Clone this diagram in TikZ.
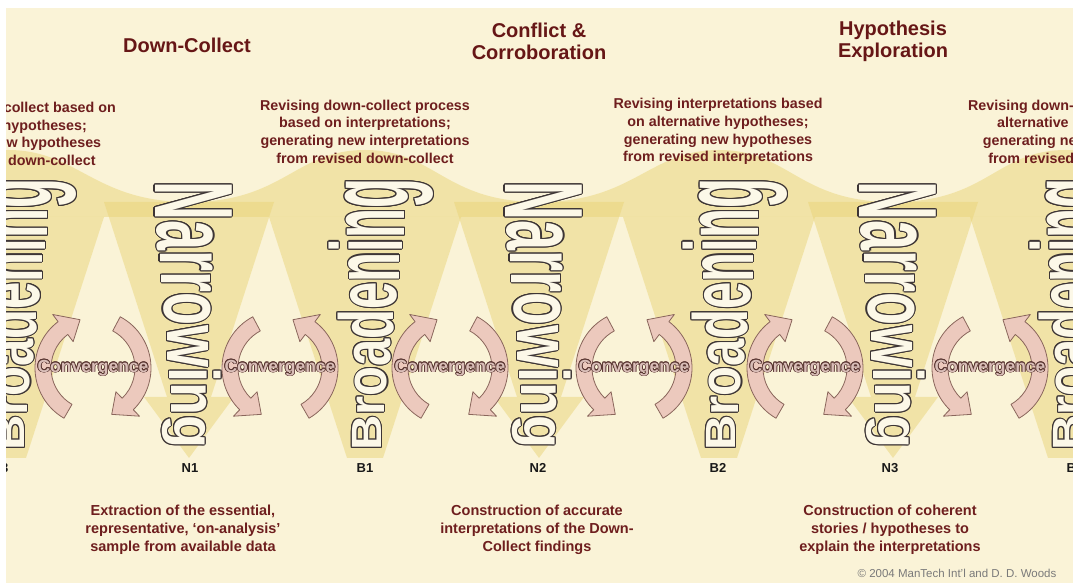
\documentclass[tikz,border=0pt]{standalone}
\usepackage{fontspec}
\setmainfont{Liberation Sans}
\usepackage{graphicx}
\usetikzlibrary{calc}
\definecolor{bgc}{HTML}{FAF3D7}
\definecolor{yel}{HTML}{EAD579}
\definecolor{maroon}{HTML}{6E1E1E}
\definecolor{titlec}{HTML}{661616}
\definecolor{outl}{HTML}{3D3535}
\definecolor{lfill}{HTML}{FCF8E8}
\definecolor{arrfill}{HTML}{ECC9BD}
\definecolor{arrline}{HTML}{8A665C}
\definecolor{convfill}{HTML}{D9BEB8}
\definecolor{convline}{HTML}{5A3632}
\definecolor{copyc}{HTML}{7A7A7A}
\tikzset{
  yelshape/.style={fill=yel, fill opacity=0.5},
  nletter/.style={inner sep=0pt, anchor=base west, font=\fontsize{54}{54}\selectfont\bfseries},
  bletter/.style={inner sep=0pt, anchor=base west, font=\fontsize{49}{49}\selectfont\bfseries},
  cword/.style={inner sep=0pt, anchor=center, font=\fontsize{17.5}{17.5}\selectfont\bfseries},
  titletext/.style={font=\fontsize{20}{22}\selectfont\bfseries, text=titlec, align=center, inner sep=0pt},
  uptext/.style={font=\fontsize{14.3}{17.7}\selectfont\bfseries, text=maroon, align=center, inner sep=0pt},
  lowtext/.style={font=\fontsize{14.5}{18}\selectfont\bfseries, text=maroon, align=center, inner sep=0pt},
  lab/.style={font=\fontsize{13}{13}\selectfont\bfseries, text=black!90, inner sep=0pt},
  convarrow/.style={fill=arrfill, draw=arrline, line width=0.8pt, line join=round},
}
% outlined text: style, x, y, rotation, vertical scale, text, outline colour, fill colour, outline radius
\newcommand\outlined[9]{%
  \foreach \oa in {0,30,...,330}{%
    \node[#1, rotate=#4, text=#7] at ($(#2,#3)+(\oa:#9)$) {\scalebox{1}[#5]{#6}};
  }%
  \node[#1, rotate=#4, text=#8] at (#2,#3) {\scalebox{1}[#5]{#6}};
}
\newcommand\narrowword[1]{%
  \foreach \mch/\mst/\mlw in {N/0/722,a/722/556,r/1278/389,r/1667/389,o/2056/611,w/2667/778,i/3445/278,n/3723/611,g/4334/611}{%
    \pgfmathsetmacro\tpos{(\mst+\mlw/2)/4945}%
    \pgfmathsetmacro\myv{2.15-1.15*\tpos}%
    \pgfmathsetmacro\myy{402-\mst*0.054}%
    \pgfmathsetmacro\myx{#1+6-19.33*\myv}%
    \outlined{nletter}{\myx}{\myy}{-90}{\myv}{\mch}{outl}{lfill}{1.1}%
  }%
}
\newcommand\broadword[1]{%
  \foreach \mch/\mst/\mlw in {B/0/722,r/722/389,o/1111/611,a/1722/556,d/2278/611,e/2889/556,n/3445/611,i/4056/278,n/4334/611,g/4945/611}{%
    \pgfmathsetmacro\tpos{(\mst+\mlw/2)/5556}%
    \pgfmathsetmacro\myv{0.75+1.75*\tpos}%
    \pgfmathsetmacro\myy{132+\mst*0.049}%
    \pgfmathsetmacro\myx{#1+1+17.54*\myv}%
    \outlined{bletter}{\myx}{\myy}{90}{\myv}{\mch}{outl}{lfill}{1.1}%
  }%
}
\newcommand\carrow[3]{%
  \pgfmathsetmacro\hb{#2-(#3)*22}%
  \path[convarrow] (#1:58) arc[start angle=#1, end angle=\hb, radius=58] -- (\hb:67) -- (#2:50) -- (\hb:33) -- (\hb:42) arc[start angle=\hb, end angle=#1, radius=42] -- cycle;
}
\newcommand\convpair[2]{%
  \begin{scope}[shift={(#1,215)}]
    \ifnum#2=1 \carrow{118}{248}{1}\carrow{-60}{75}{1}%
    \else \carrow{240}{105}{-1}\carrow{62}{-68}{-1}\fi
  \end{scope}
  \outlined{cword}{#1}{215}{0}{1}{Convergence}{convline}{convfill}{0.7}%
}
\begin{document}
\begin{tikzpicture}[x=1pt,y=1pt]
\useasboundingbox (0,0) rectangle (1073,583);
\fill[white] (0,0) rectangle (1073,583);
\clip (6,0) rectangle (1073,575);
\fill[bgc] (6,0) rectangle (1073,575);
% upper ribbon
\fill[yelshape] (-165,366) -- (-165,381)
  .. controls (-70,381) and (-62,433) .. (8,433)
  .. controls (78,433) and (94,381) .. (189,381)
  .. controls (284,381) and (295,433) .. (365,433)
  .. controls (435,433) and (444,381) .. (539,381)
  .. controls (634,381) and (649,433) .. (719,433)
  .. controls (789,433) and (798,381) .. (893,381)
  .. controls (988,381) and (996,433) .. (1066,433)
  .. controls (1136,433) and (1148,381) .. (1243,381)
  -- (1243,366) -- cycle;
% narrowing funnels
\foreach \n in {189,539,893}{
  \fill[yelshape] (\n-85,381) -- (\n+85,381) -- (\n+22,186) -- (\n-22,186) -- cycle;
  \fill[yelshape] (\n-45,186) -- (\n+45,186) -- (\n,125) -- cycle;
}
% broadening funnels
\foreach \b in {8,365,719,1066}{
  \fill[yelshape] (\b-18,125) -- (\b+18,125) -- (\b+96,366) -- (\b-96,366) -- cycle;
}
% vertical words
\narrowword{189}
\narrowword{539}
\narrowword{893}
\broadword{8}
\broadword{365}
\broadword{719}
\broadword{1066}
% convergence cycles
\convpair{93}{-1}
\convpair{280}{1}
\convpair{450}{-1}
\convpair{634}{1}
\convpair{805}{-1}
\convpair{990}{1}
% titles
\node[titletext] (t1) at (187,538) {Down-Collect};
\node[titletext] (t2) at (539,542) {Conflict \&\\Corroboration};
\node[titletext] (t3) at (893,542) {Hypothesis\\Exploration};
% upper texts
\node[uptext] (u0) at (7,449) {Revising down-collect based on\\alternative hypotheses;\\generating new hypotheses\\from revised down-collect};
\node[uptext] (u1) at (365,451.5) {Revising down-collect process\\based on interpretations;\\generating new interpretations\\from revised down-collect};
\node[uptext] (u2) at (718,451.5) {Revising interpretations based\\on alternative hypotheses;\\generating new hypotheses\\from revised interpretations};
\node[uptext] (u3) at (1077,451.5) {Revising down-collect based on\\alternative hypotheses;\\generating new hypotheses\\from revised down-collect};
% labels
\node[lab] (lb0) at (0,115) {B3};
\node[lab] (ln1) at (190,115) {N1};
\node[lab] (lb1) at (365,115) {B1};
\node[lab] (ln2) at (538,115) {N2};
\node[lab] (lb2) at (718,115) {B2};
\node[lab] (ln3) at (890,115) {N3};
\node[lab] (lb3) at (1075,115) {B3};
% lower texts
\node[lowtext] (d1) at (183,53) {Extraction of the essential,\\representative, ‘on-analysis’\\sample from available data};
\node[lowtext] (d2) at (537,53) {Construction of accurate\\interpretations of the Down-\\Collect findings};
\node[lowtext] (d3) at (890,53) {Construction of coherent\\stories / hypotheses to\\explain the interpretations};
\node[font=\fontsize{11.5}{12}\selectfont, text=copyc, inner sep=0pt] (cp) at (957,10) {© 2004 ManTech Int'l and D. D. Woods};
\end{tikzpicture}
\end{document}
